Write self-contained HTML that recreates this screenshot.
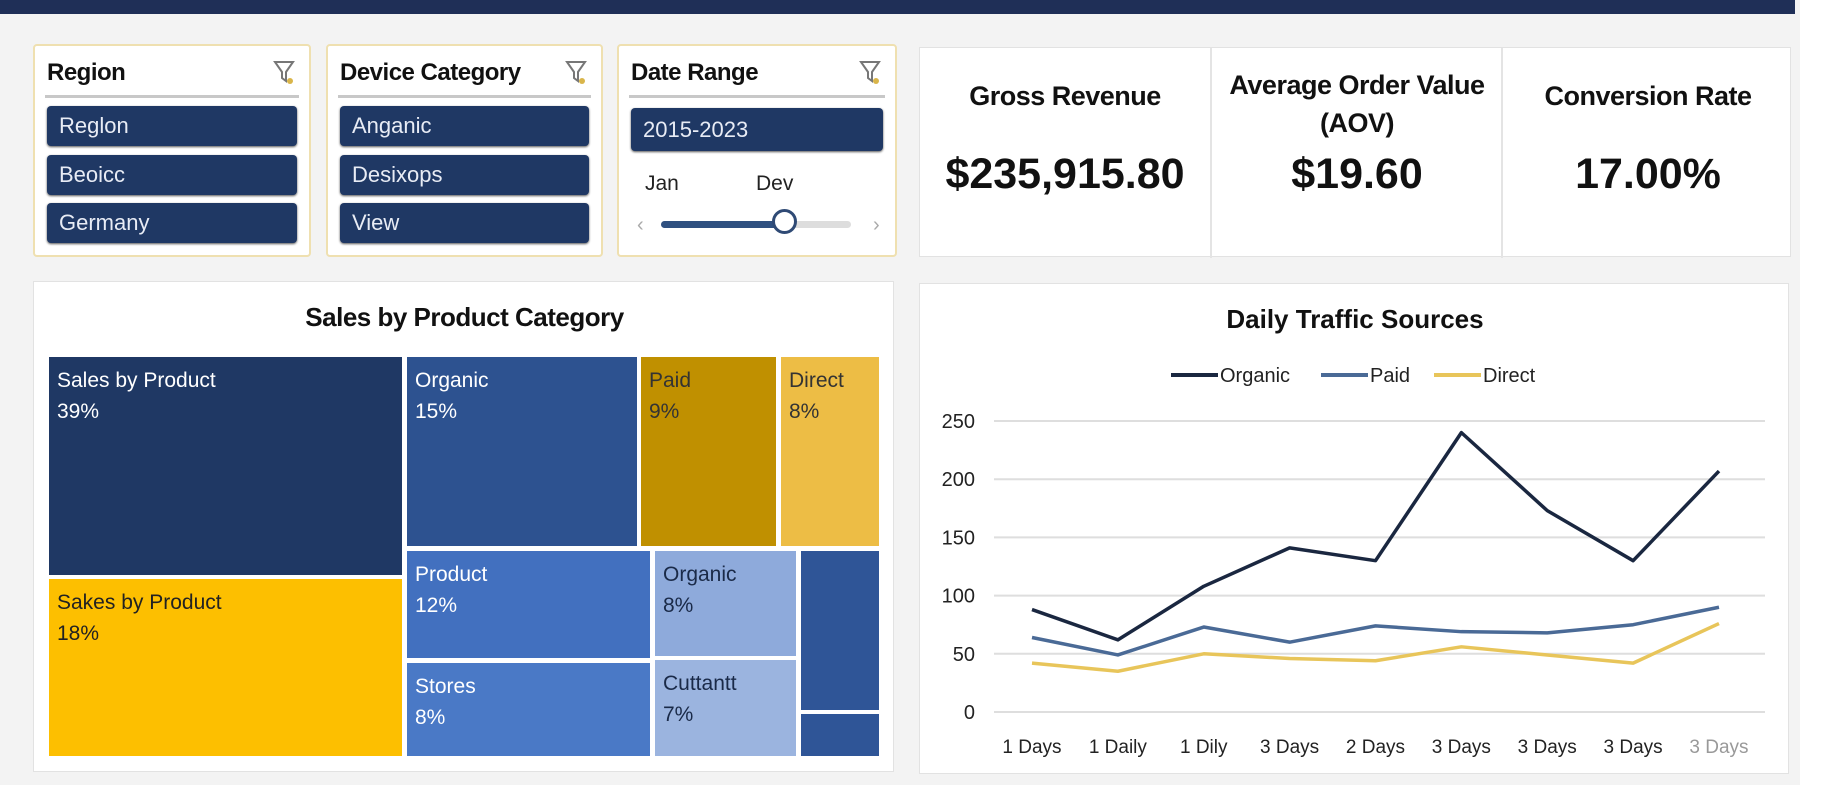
<!DOCTYPE html>
<html><head><meta charset="utf-8">
<style>
body{margin:0;width:1833px;height:800px;background:#f3f3f3;font-family:"Liberation Sans",sans-serif;position:relative;overflow:hidden}
.abs{position:absolute}
.panel{position:absolute;background:#fff;box-sizing:border-box}
.slicer{border:2px solid #efe0b0;border-radius:4px;background:#fff}
.stitle{position:absolute;left:12px;top:13px;font-weight:bold;font-size:24px;color:#111;letter-spacing:-0.5px}
.rule{position:absolute;left:10px;right:10px;top:49px;height:3px;background:#c8c8c8}
.item{position:absolute;left:12px;right:12px;height:40px;background:#1f3864;border-radius:4px;color:#e8ecf5;font-size:22px;line-height:40px;padding-left:12px;box-sizing:border-box;box-shadow:0 1px 2px #555}
.funnel{position:absolute;right:14px;top:12px;width:22px;height:28px}
.kt{position:absolute;text-align:center;font-weight:bold;font-size:27px;color:#111;width:290px;letter-spacing:-0.5px}
.kv{position:absolute;text-align:center;font-weight:bold;font-size:43px;color:#111;width:290px;top:102px}
.tm{position:absolute;color:#fff;font-size:21px;line-height:31px;padding:8px 0 0 8px;box-sizing:border-box}
</style></head><body>
<div class="abs" style="left:0;top:0;width:1795px;height:14px;background:#1f2f57"></div>
<div class="abs" style="left:1800px;top:0;width:33px;height:800px;background:#fff"></div>
<div class="abs" style="left:0;top:785px;width:1833px;height:15px;background:#fff"></div>

<div class="panel slicer" style="left:33px;top:44px;width:278px;height:213px">
 <div class="stitle">Region</div>
 <svg class="funnel" viewBox="0 0 22 28"><path d="M2 4h18l-7 10v9l-4-3v-6z" fill="none" stroke="#777" stroke-width="2"/><circle cx="17" cy="23" r="3" fill="#d9b54a"/></svg>
 <div class="rule"></div>
 <div class="item" style="top:60px">Reglon</div>
 <div class="item" style="top:109px">Beoicc</div>
 <div class="item" style="top:157px">Germany</div>
</div>
<div class="panel slicer" style="left:326px;top:44px;width:277px;height:213px">
 <div class="stitle">Device Category</div>
 <svg class="funnel" viewBox="0 0 22 28"><path d="M2 4h18l-7 10v9l-4-3v-6z" fill="none" stroke="#777" stroke-width="2"/><circle cx="17" cy="23" r="3" fill="#d9b54a"/></svg>
 <div class="rule"></div>
 <div class="item" style="top:60px">Anganic</div>
 <div class="item" style="top:109px">Desixops</div>
 <div class="item" style="top:157px">View</div>
</div>
<div class="panel slicer" style="left:617px;top:44px;width:280px;height:213px">
 <div class="stitle">Date Range</div>
 <svg class="funnel" viewBox="0 0 22 28"><path d="M2 4h18l-7 10v9l-4-3v-6z" fill="none" stroke="#777" stroke-width="2"/><circle cx="17" cy="23" r="3" fill="#d9b54a"/></svg>
 <div class="rule"></div>
 <div class="item" style="top:62px;height:43px;line-height:43px">2015-2023</div>
 <div class="abs" style="left:26px;top:126px;font-size:21px;color:#222">Jan</div>
 <div class="abs" style="left:137px;top:126px;font-size:21px;color:#222">Dev</div>
 <div class="abs" style="left:18px;top:168px;color:#aaa;font-size:20px">‹</div>
 <div class="abs" style="left:254px;top:168px;color:#aaa;font-size:20px">›</div>
 <div class="abs" style="left:42px;top:175px;width:190px;height:7px;border-radius:4px;background:#ddd"></div>
 <div class="abs" style="left:42px;top:175px;width:125px;height:7px;border-radius:4px;background:#2f5080"></div>
 <div class="abs" style="left:153px;top:163px;width:25px;height:25px;border-radius:50%;border:3px solid #2f4a75;background:#fff;box-sizing:border-box"></div>
</div>

<div class="panel" style="left:919px;top:47px;width:872px;height:210px;border:1px solid #e2e2e2">
 <div class="abs" style="left:290px;top:0;width:2px;height:210px;background:#e4e4e4"></div>
 <div class="abs" style="left:581px;top:0;width:2px;height:210px;background:#e4e4e4"></div>
 <div class="kt" style="left:0;top:33px">Gross Revenue</div>
 <div class="kv" style="left:0">$235,915.80</div>
 <div class="kt" style="left:292px;top:18px;line-height:38px">Average Order Value<br>(AOV)</div>
 <div class="kv" style="left:292px">$19.60</div>
 <div class="kt" style="left:583px;top:33px">Conversion Rate</div>
 <div class="kv" style="left:583px">17.00%</div>
</div>

<div class="panel" style="left:33px;top:281px;width:861px;height:491px;border:1px solid #e2e2e2">
 <div class="abs" style="left:0;width:861px;top:20px;text-align:center;font-weight:bold;font-size:26px;color:#111;letter-spacing:-0.5px">Sales by Product Category</div>
</div>
<div class="tm" style="left:49px;top:357px;width:353px;height:218px;background:#1f3864">Sales by Product<br>39%</div>
<div class="tm" style="left:49px;top:579px;width:353px;height:177px;background:#fdbf00;color:#222">Sakes by Product<br>18%</div>
<div class="tm" style="left:407px;top:357px;width:230px;height:189px;background:#2d5290">Organic<br>15%</div>
<div class="tm" style="left:641px;top:357px;width:135px;height:189px;background:#c09000;color:#333">Paid<br>9%</div>
<div class="tm" style="left:781px;top:357px;width:98px;height:189px;background:#edbd45;color:#333">Direct<br>8%</div>
<div class="tm" style="left:407px;top:551px;width:243px;height:107px;background:#4270bf">Product<br>12%</div>
<div class="tm" style="left:407px;top:663px;width:243px;height:93px;background:#4a79c6">Stores<br>8%</div>
<div class="tm" style="left:655px;top:551px;width:141px;height:105px;background:#8eaadb;color:#1a2a48">Organic<br>8%</div>
<div class="tm" style="left:655px;top:660px;width:141px;height:96px;background:#9bb4df;color:#1a2a48">Cuttantt<br>7%</div>
<div class="tm" style="left:801px;top:551px;width:78px;height:159px;background:#2f5597"></div>
<div class="tm" style="left:801px;top:714px;width:78px;height:42px;background:#2f5597"></div>

<div class="panel" style="left:919px;top:283px;width:870px;height:491px;border:1px solid #e2e2e2">
<svg id="chart" width="870" height="491" style="position:absolute;left:0;top:0"></svg>
</div>
<script>
const categories=["1 Days","1 Daily","1 Dily","3 Days","2 Days","3 Days","3 Days","3 Days","3 Days"];
const organic=[88,62,108,141,130,240,173,130,207];
const paid=[64,49,73,60,74,69,68,75,90];
const direct=[42,35,50,46,44,56,49,42,76];
const yTicks=[0,50,100,150,200,250];
const NS="http://www.w3.org/2000/svg";
const svg=document.getElementById('chart');
const ox=919,oy=283;
const x=i=>1031-ox+i*(1718-1031)/(categories.length-1);
const y=v=>711-oy-v*(711-420)/250;
function mk(t,a){const e=document.createElementNS(NS,t);for(const k in a)e.setAttribute(k,a[k]);svg.appendChild(e);return e;}
let t=mk('text',{x:435,y:44,'text-anchor':'middle','font-size':26,'font-weight':'bold',fill:'#111','font-family':'Liberation Sans'});
t.textContent='Daily Traffic Sources';


yTicks.forEach(v=>{
 const g=mk('line',{x1:993-ox,x2:1764-ox,y1:y(v),y2:y(v),stroke:'#dedede','stroke-width':2});
 
 
 const l=mk('text',{x:974-ox,y:y(v)+7,'text-anchor':'end','font-size':20,fill:'#222','font-family':'Liberation Sans'});
 l.textContent=v;
 
 
});
categories.forEach((c,i)=>{
 const l=mk('text',{x:x(i),y:752-oy,'text-anchor':'middle','font-size':19,fill:i==categories.length-1?'#999':'#222','font-family':'Liberation Sans'});
 l.textContent=c;
 
 
});
const series=[["organic",organic,"#1a2740"],["paid",paid,"#4a6a96"],["direct",direct,"#e8c55a"]];
series.forEach(([n,d,col])=>{
 const p=mk('polyline',{points:d.map((v,i)=>x(i)+','+y(v)).join(' '),fill:'none',stroke:col,'stroke-width':3.5,'stroke-linejoin':'round'});
 
 
});
const leg=[["Organic","#1a2740",1170],["Paid","#4a6a96",1320],["Direct","#e8c55a",1433]];
leg.forEach(([n,col,lx])=>{
 const g=mk('line',{x1:lx-ox,x2:lx+47-ox,y1:374-oy,y2:374-oy,stroke:col,'stroke-width':4});
 
 
 const l=mk('text',{x:lx+49-ox,y:381-oy,'font-size':20,fill:'#222','font-family':'Liberation Sans'});
 l.textContent=n;
 
 
});
</script>
</body></html>
